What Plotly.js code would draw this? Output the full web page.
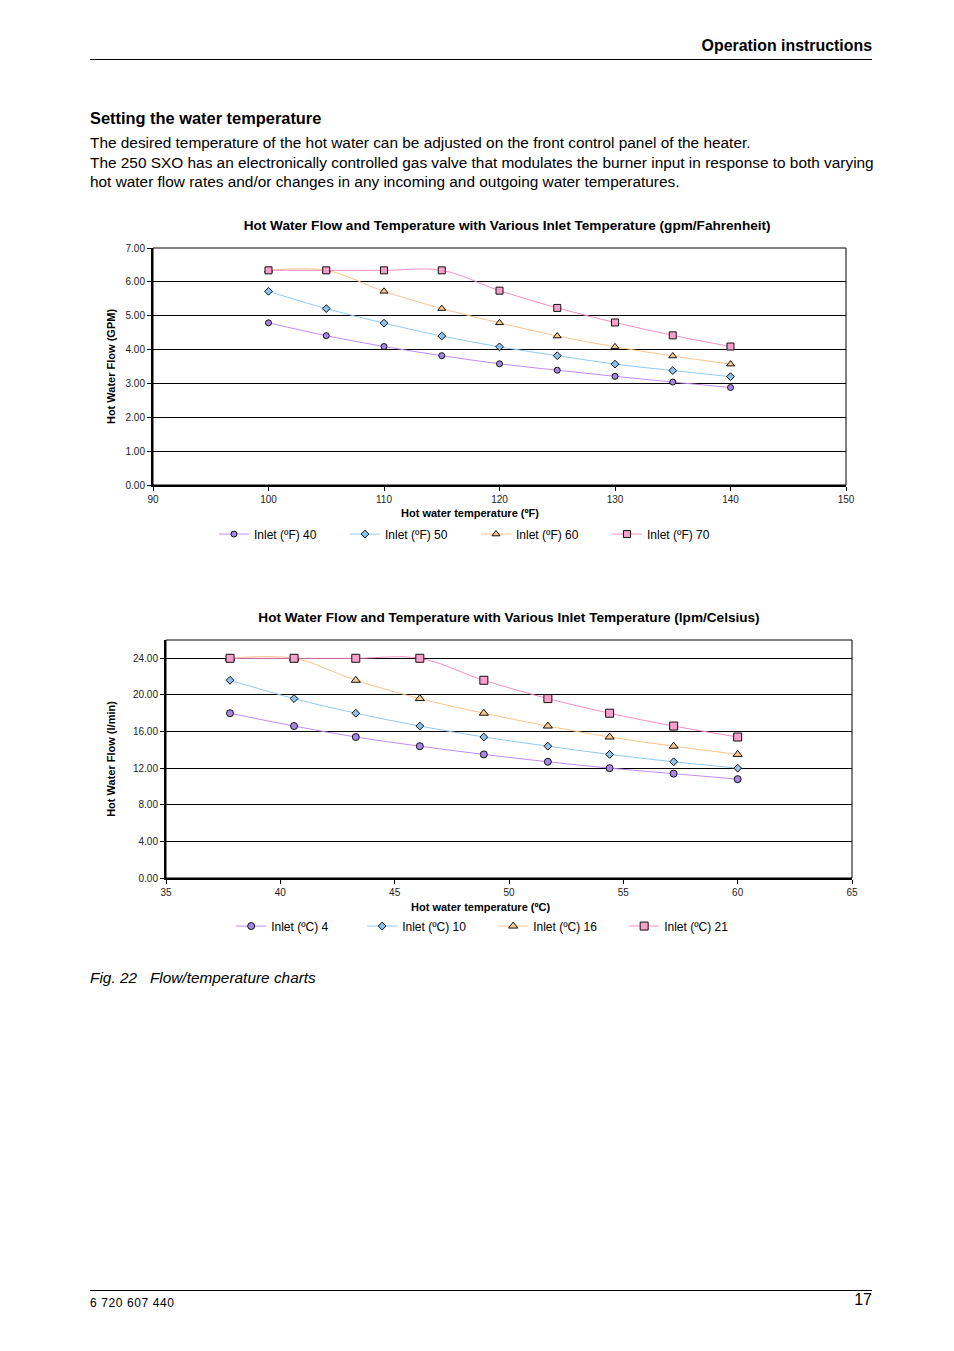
<!DOCTYPE html>
<html><head><meta charset="utf-8">
<script src="https://cdn.plot.ly/plotly-3.0.1.min.js"></script>
<style>
html,body{margin:0;padding:0;background:#fff;}
#page{position:relative;width:954px;height:1351px;font-family:"Liberation Sans",Arial,sans-serif;color:#000;overflow:hidden;}
.abs{position:absolute;white-space:nowrap;}
</style></head><body><div id="page">
<div class="abs" style="right:82px;top:36px;font-size:15.9px;font-weight:bold;line-height:19px;">Operation instructions</div>
<div class="abs" style="left:90px;top:59px;width:782px;height:1px;background:#000;"></div>
<div class="abs" style="left:90px;top:109px;font-size:16.4px;font-weight:bold;line-height:19px;">Setting the water temperature</div>
<div class="abs" style="left:90px;top:133px;font-size:15.4px;line-height:19.5px;">The desired temperature of the hot water can be adjusted on the front control panel of the heater.<br>The 250 SXO has an electronically controlled gas valve that modulates the burner input in response to both varying<br>hot water flow rates and/or changes in any incoming and outgoing water temperatures.</div>
<div id="c1" class="abs" style="left:90px;top:205px;width:790px;height:350px;"></div>
<div id="c2" class="abs" style="left:90px;top:597px;width:790px;height:350px;"></div>
<div class="abs" style="left:90px;top:968px;font-size:15.4px;font-style:italic;line-height:19px;">Fig. 22&nbsp;&nbsp; Flow/temperature charts</div>
<div class="abs" style="left:90px;top:1290px;width:782px;height:1px;background:#000;"></div>
<div class="abs" style="left:90px;top:1296px;font-size:12px;letter-spacing:0.6px;line-height:14px;">6 720 607 440</div>
<div class="abs" style="right:82px;top:1291px;font-size:16px;line-height:17px;">17</div>
</div>
<script>
// ---- data: chart 1 (gpm / Fahrenheit)
const tempF = [100, 105, 110, 115, 120, 125, 130, 135, 140];
const gpmInlet40 = [4.79, 4.41, 4.09, 3.82, 3.58, 3.39, 3.21, 3.04, 2.88];
const gpmInlet50 = [5.72, 5.21, 4.78, 4.40, 4.08, 3.82, 3.57, 3.38, 3.20];
const gpmInlet60 = [6.34, 6.34, 5.72, 5.21, 4.79, 4.40, 4.08, 3.81, 3.57];
const gpmInlet70 = [6.34, 6.34, 6.34, 6.34, 5.74, 5.23, 4.80, 4.42, 4.09];
const namesF = ['Inlet (ºF) 40', 'Inlet (ºF) 50', 'Inlet (ºF) 60', 'Inlet (ºF) 70'];

// ---- data: chart 2 (lpm / Celsius)
const tempC = [37.8, 40.6, 43.3, 46.1, 48.9, 51.7, 54.4, 57.2, 60.0];
const lpmInlet4 = [18.0, 16.6, 15.4, 14.4, 13.5, 12.7, 12.0, 11.4, 10.8];
const lpmInlet10 = [21.6, 19.6, 18.0, 16.6, 15.4, 14.4, 13.5, 12.7, 12.0];
const lpmInlet16 = [24.0, 24.0, 21.6, 19.6, 18.0, 16.6, 15.4, 14.4, 13.5];
const lpmInlet21 = [24.0, 24.0, 24.0, 24.0, 21.6, 19.6, 18.0, 16.6, 15.4];
const namesC = ['Inlet (ºC) 4', 'Inlet (ºC) 10', 'Inlet (ºC) 16', 'Inlet (ºC) 21'];

const lineColors = ['#c48af5', '#92c9f3', '#fcc488', '#f78cc4'];
const fillColors = ['#a886e6', '#8cc3ee', '#fbc98a', '#f7a0cb'];
const symbols = ['circle', 'diamond', 'triangle-up', 'square'];
const FONT = '"Liberation Sans", Arial, sans-serif';

function chart(id, x, series, names, o) {
  const traces = series.map((y, i) => ({
    type: 'scatter', mode: 'lines+markers', x: x, y: y, name: names[i],
    line: {color: lineColors[i], width: 1, shape: 'spline', smoothing: 1},
    marker: {symbol: symbols[i], size: o.msize[i], color: fillColors[i], line: {color: '#111', width: 1}}
  }));
  const layout = {
    width: 790, height: 350,
    margin: {l: o.l, r: o.r, t: 43, b: o.b, autoexpand: false},
    paper_bgcolor: '#fff', plot_bgcolor: '#fff',
    font: {family: FONT, color: '#000', size: 10},
    title: {text: o.title, font: {family: FONT, size: 13.6, color: '#000', weight: 'bold'},
            x: o.titleX, xref: 'paper', xanchor: 'center', y: 1, yref: 'paper', yanchor: 'bottom', pad: {b: 18}},
    showlegend: true,
    legend: {orientation: 'h', x: o.legX, xanchor: 'left', y: o.legY, yanchor: 'middle',
             font: {family: FONT, size: 12, color: '#000'}, entrywidth: 86, entrywidthmode: 'pixels',
             bgcolor: 'rgba(0,0,0,0)', tracegroupgap: 0},
    xaxis: {range: o.xr, dtick: o.xd, tick0: o.xr[0], showgrid: false, zeroline: false,
            showline: true, linecolor: '#000', linewidth: 2, ticks: 'outside', ticklen: 4, tickcolor: '#000',
            tickfont: {family: FONT, size: 10, color: '#222'}},
    yaxis: {range: o.yr, dtick: o.yd, tick0: 0, tickformat: '.2f', showgrid: true, gridcolor: '#000', gridwidth: 1,
            zeroline: false, showline: true, linecolor: '#000', linewidth: 2, ticks: 'outside', ticklen: 4, tickcolor: '#000',
            tickfont: {family: FONT, size: 10, color: '#222'},
            title: {text: o.ytitle, font: {family: FONT, size: 11, color: '#000', weight: 'bold'}, standoff: o.ystand}},
    annotations: [{text: o.xtitle, xref: 'paper', yref: 'paper', x: o.xtX, y: o.xtY, xanchor: 'center', yanchor: 'middle',
                   showarrow: false, font: {family: FONT, size: 11, color: '#000', weight: 'bold'}}],
    shapes: [{type: 'rect', xref: 'paper', yref: 'paper', x0: 0, x1: 1, y0: 0, y1: 1, line: {color: '#000', width: 1}}]
  };
  Plotly.newPlot(id, traces, layout, {displayModeBar: false, staticPlot: true});
}

chart('c1', tempF, [gpmInlet40, gpmInlet50, gpmInlet60, gpmInlet70], namesF, {
  l: 63, r: 34, b: 70, xr: [90, 150], xd: 10, yr: [0, 7], yd: 1,
  title: 'Hot Water Flow and Temperature with Various Inlet Temperature (gpm/Fahrenheit)', titleX: 0.511,
  xtitle: 'Hot water temperature (ºF)', xtX: 0.457, xtY: -0.118,
  ytitle: 'Hot Water Flow (GPM)', ystand: 8,
  legX: 0.088, legY: -0.207, msize: [6, 6, 7, 7]
});
chart('c2', tempC, [lpmInlet4, lpmInlet10, lpmInlet16, lpmInlet21], namesC, {
  l: 76, r: 28, b: 69, xr: [35, 65], xd: 5, yr: [0, 26], yd: 4,
  title: 'Hot Water Flow and Temperature with Various Inlet Temperature (lpm/Celsius)', titleX: 0.5,
  xtitle: 'Hot water temperature (ºC)', xtX: 0.458, xtY: -0.122,
  ytitle: 'Hot Water Flow (l/min)', ystand: 15,
  legX: 0.095, legY: -0.202, msize: [7, 6, 8, 8]
});
</script>
</body></html>
